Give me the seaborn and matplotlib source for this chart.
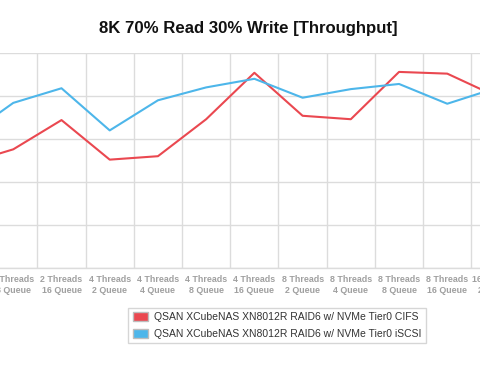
import matplotlib
matplotlib.use("Agg")
import matplotlib.pyplot as plt
import seaborn as sns
import pandas as pd
import numpy as np
from matplotlib.patches import Patch

# ---- data ----
categories = ["2 Threads\n4 Queue", "2 Threads\n8 Queue", "2 Threads\n16 Queue",
              "4 Threads\n2 Queue", "4 Threads\n4 Queue", "4 Threads\n8 Queue",
              "4 Threads\n16 Queue", "8 Threads\n2 Queue", "8 Threads\n4 Queue",
              "8 Threads\n8 Queue", "8 Threads\n16 Queue", "16 Threads\n2 Queue"]
series_names = ["QSAN XCubeNAS XN8012R RAID6 w/ NVMe Tier0 CIFS",
                "QSAN XCubeNAS XN8012R RAID6 w/ NVMe Tier0 iSCSI"]
cifs_values = [121, 138, 172, 126, 130, 173, 227, 177, 173, 228, 226, 200]
iscsi_values = [152, 192, 209, 160, 195, 210, 220, 198, 208, 214, 191, 209]
title = "8K 70% Read 30% Write [Throughput]"
colors = ["#EA4850", "#4DB6EA"]

rows = []
for i, c in enumerate(categories):
    rows.append({"idx": i, "series": series_names[0], "value": cifs_values[i]})
    rows.append({"idx": i, "series": series_names[1], "value": iscsi_values[i]})
df = pd.DataFrame(rows)

sns.set_theme(style="white")
plt.rcParams["font.family"] = ["Liberation Sans", "DejaVu Sans"]

W, H = 480, 378
fig = plt.figure(figsize=(W / 100, H / 100), dpi=100)

# axes spanning beyond the figure (the reference is a crop)
px_left, px_right = -100, 580
py_top, py_bot = 53, 268
ax = fig.add_axes([px_left / W, 1 - py_bot / H, (px_right - px_left) / W, (py_bot - py_top) / H])

sns.lineplot(data=df, x="idx", y="value", hue="series", palette=colors,
             linewidth=1.5, ax=ax, legend=False, sort=False)

step = 48.22
x0 = 2 - (61.5 - px_left) / step
x1 = 2 + (px_right - 61.5) / step
ax.set_xlim(x0, x1)
ax.set_ylim(0, 250)
ax.set_yticks(np.arange(0, 251, 50))
ax.set_yticklabels([])
ax.set_xticks(range(len(categories)))
ax.set_xticklabels(categories, fontsize=6.4, fontweight="bold", color="#a0a0a0",
                   linespacing=1.25)
ax.set_xticks(np.arange(-1, len(categories) + 1) + 0.5, minor=True)
ax.tick_params(axis="x", which="major", length=0, pad=5)
ax.tick_params(axis="x", which="minor", length=0)
ax.tick_params(axis="y", length=0)
ax.grid(True, axis="y", which="major", color="#dcdcdc", linewidth=1)
ax.grid(True, axis="x", which="minor", color="#dcdcdc", linewidth=1)
ax.grid(False, axis="x", which="major")
for s in ["top", "left", "right"]:
    ax.spines[s].set_visible(False)
ax.spines["bottom"].set_color("#dcdcdc")
ax.spines["bottom"].set_linewidth(1)
ax.set_xlabel("")
ax.set_ylabel("")

fig.text(248 / W, 1 - 28 / H, title, ha="center", va="center",
         fontsize=12.1, fontweight="bold", color="#111111")

handles = [Patch(facecolor=colors[0], edgecolor="#bdbdbd", linewidth=1),
           Patch(facecolor=colors[1], edgecolor="#bdbdbd", linewidth=1)]
leg = fig.legend(handles, series_names, loc="center",
                 bbox_to_anchor=(277 / W, 1 - 325.5 / H), fontsize=7.5,
                 frameon=True, fancybox=False, edgecolor="#cccccc",
                 handlelength=1.45, handleheight=0.95, handletextpad=0.6,
                 labelspacing=0.6, borderpad=0.4, borderaxespad=0)
leg.get_frame().set_linewidth(1)
for t in leg.get_texts():
    t.set_color("#333333")

fig.savefig("out.png", dpi=100)
